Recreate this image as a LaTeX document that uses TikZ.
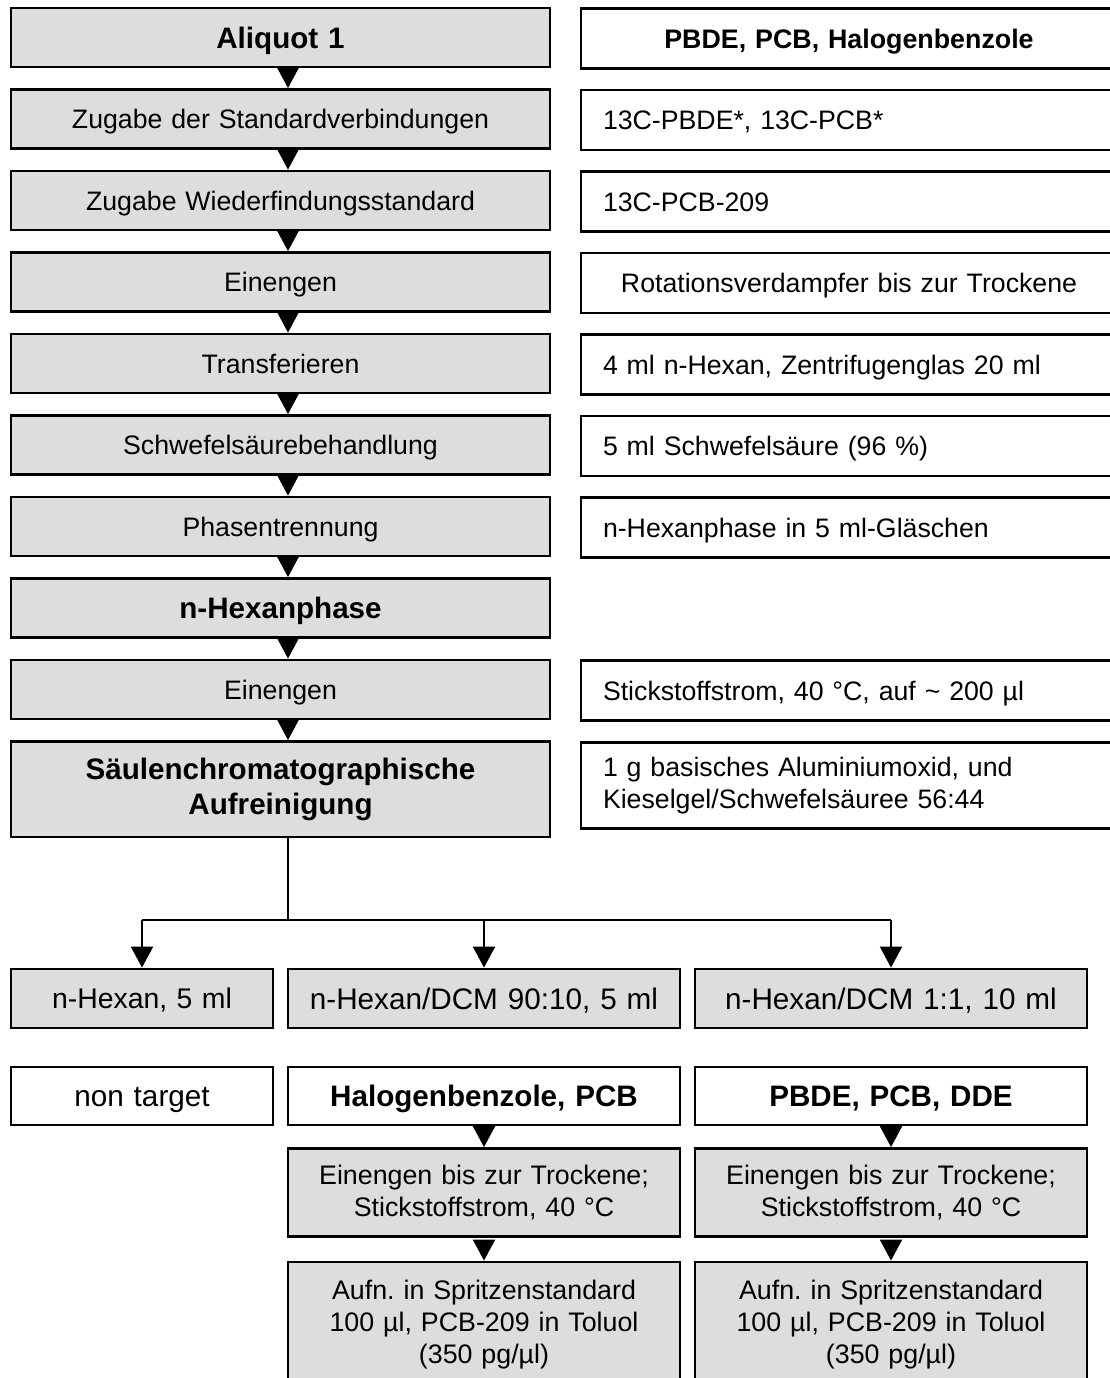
\documentclass[tikz,border=0pt]{standalone}
\usepackage{fontspec}
\setmainfont{Liberation Sans}
\usetikzlibrary{arrows.meta,calc}
\definecolor{boxgray}{RGB}{221,221,221}
\begin{document}
\frenchspacing
\begin{tikzpicture}[x=1pt,y=-1pt,
  box/.style={draw=black, line width=2.8pt, inner sep=0pt, align=center,
              font=\fontsize{26.7}{32}\selectfont},
  graybox/.style={box, fill=boxgray},
  whitebox/.style={box, fill=white},
  one/.style={text height=19.2pt, text depth=0pt},
  onebig/.style={text height=21.3pt, text depth=0pt},
  lcol/.style={graybox, minimum width=539pt, minimum height=59pt, text width=520pt},
  rcol/.style={whitebox, minimum width=536pt, minimum height=60pt, inner xsep=22pt,
               text width=492pt, align=left},
  rcolc/.style={rcol, align=center},
  hbold/.style={font=\fontsize{29.6}{35}\selectfont\bfseries},
  rbold/.style={font=\fontsize{26.8}{32}\selectfont\bfseries},
  big/.style={font=\fontsize{29.7}{35}\selectfont},
  bigbold/.style={font=\fontsize{29.6}{35}\selectfont\bfseries},
  small/.style={font=\fontsize{26.8}{32}\selectfont},
  tri/.style={-{Triangle[width=22pt,length=21pt]}, line width=2pt},
  conn/.style={line width=2pt},
  colA/.style={minimum width=262pt, text width=250pt},
  colB/.style={minimum width=392pt, text width=380pt},
]
\useasboundingbox (0,0) rectangle (1110,1378);
\clip (0,0) rectangle (1110,1378);

% left column
\node[lcol, hbold, onebig] (a0) at (280.5,37.5) {Aliquot 1};
\node[lcol, one] (a1) at (280.5,119) {Zugabe der Standardverbindungen};
\node[lcol, one] (a2) at (280.5,200.5) {Zugabe Wiederfindungsstandard};
\node[lcol, one] (a3) at (280.5,282) {Einengen};
\node[lcol, one] (a4) at (280.5,363.5) {Transferieren};
\node[lcol, one] (a5) at (280.5,445) {Schwefelsäurebehandlung};
\node[lcol, one] (a6) at (280.5,526.5) {Phasentrennung};
\node[lcol, hbold, onebig] (a7) at (280.5,608) {n-Hexanphase};
\node[lcol, one] (a8) at (280.5,689.5) {Einengen};
\node[lcol, hbold, minimum height=95.5pt] (a9) at (280.5,789.25) {Säulenchromatographische\\Aufreinigung};

% right column
\node[rcolc, rbold, one] (r0) at (849,38.5) {PBDE, PCB, Halogenbenzole};
\node[rcol, one] (r1) at (849,120) {13C-PBDE*, 13C-PCB*};
\node[rcol, one] (r2) at (849,201.5) {13C-PCB-209};
\node[rcolc, one] (r3) at (849,283) {Rotationsverdampfer bis zur Trockene};
\node[rcol, one] (r4) at (849,364.5) {4 ml n-Hexan, Zentrifugenglas 20 ml};
\node[rcol, one] (r5) at (849,446) {5 ml Schwefelsäure (96 \%)};
\node[rcol, one] (r6) at (849,527.5) {n-Hexanphase in 5 ml-Gläschen};
\node[rcol, one] (r8) at (849,690.5) {Stickstoffstrom, 40 °C, auf \textasciitilde{} 200 µl};
\node[rcol, minimum height=86.5pt] (r9) at (849,785.5) {1 g basisches Aluminiumoxid, und\\Kieselgel/Schwefelsäuree 56:44};

% arrows left column
\coordinate (ax) at (288,0);
\foreach \i/\j in {a0/a1,a1/a2,a2/a3,a3/a4,a4/a5,a5/a6,a6/a7,a7/a8,a8/a9}
  \draw[tri] (\i.south -| ax) -- (\j.north -| ax);

% bottom rows
\node[graybox, colA, minimum height=59pt, font=\fontsize{28.4}{34}\selectfont, text height=20.4pt, text depth=0pt] (b1) at (142,998.5) {n-Hexan, 5 ml};
\node[graybox, colB, minimum height=59pt, big, onebig] (b2) at (484,998.5) {n-Hexan/DCM 90:10, 5 ml};
\node[graybox, colB, minimum height=59pt, big, onebig] (b3) at (891,998.5) {n-Hexan/DCM 1:1, 10 ml};

\node[whitebox, colA, minimum height=58pt, big, onebig] (c1) at (142,1096) {non target};
\node[whitebox, colB, minimum height=58pt, bigbold, onebig] (c2) at (484,1096) {Halogenbenzole, PCB};
\node[whitebox, colB, minimum height=58pt, bigbold, onebig] (c3) at (891,1096) {PBDE, PCB, DDE};

\node[graybox, colB, minimum height=88pt, small] (d2) at (484,1192.5) {Einengen bis zur Trockene;\\Stickstoffstrom, 40 °C};
\node[graybox, colB, minimum height=88pt, small] (d3) at (891,1192.5) {Einengen bis zur Trockene;\\Stickstoffstrom, 40 °C};

\node[graybox, colB, minimum height=126pt, small] (e2) at (484,1325) {Aufn. in Spritzenstandard\\100 µl, PCB-209 in Toluol\\(350 pg/µl)};
\node[graybox, colB, minimum height=126pt, small] (e3) at (891,1325) {Aufn. in Spritzenstandard\\100 µl, PCB-209 in Toluol\\(350 pg/µl)};

% split connector
\coordinate (bus) at (288,920);
\draw[conn] (a9.south -| ax) -- (bus);
\draw[conn] (b1.north |- bus) -- (b3.north |- bus);
\draw[tri] (b1.north |- bus) -- (b1.north);
\draw[tri] (b2.north |- bus) -- (b2.north);
\draw[tri] (b3.north |- bus) -- (b3.north);

\draw[tri, shorten <=2pt] (c2.south) -- (d2.north);
\draw[tri, shorten <=2pt] (c3.south) -- (d3.north);
\draw[tri, shorten <=5pt] (d2.south) -- (e2.north);
\draw[tri, shorten <=5pt] (d3.south) -- (e3.north);
\end{tikzpicture}
\end{document}
